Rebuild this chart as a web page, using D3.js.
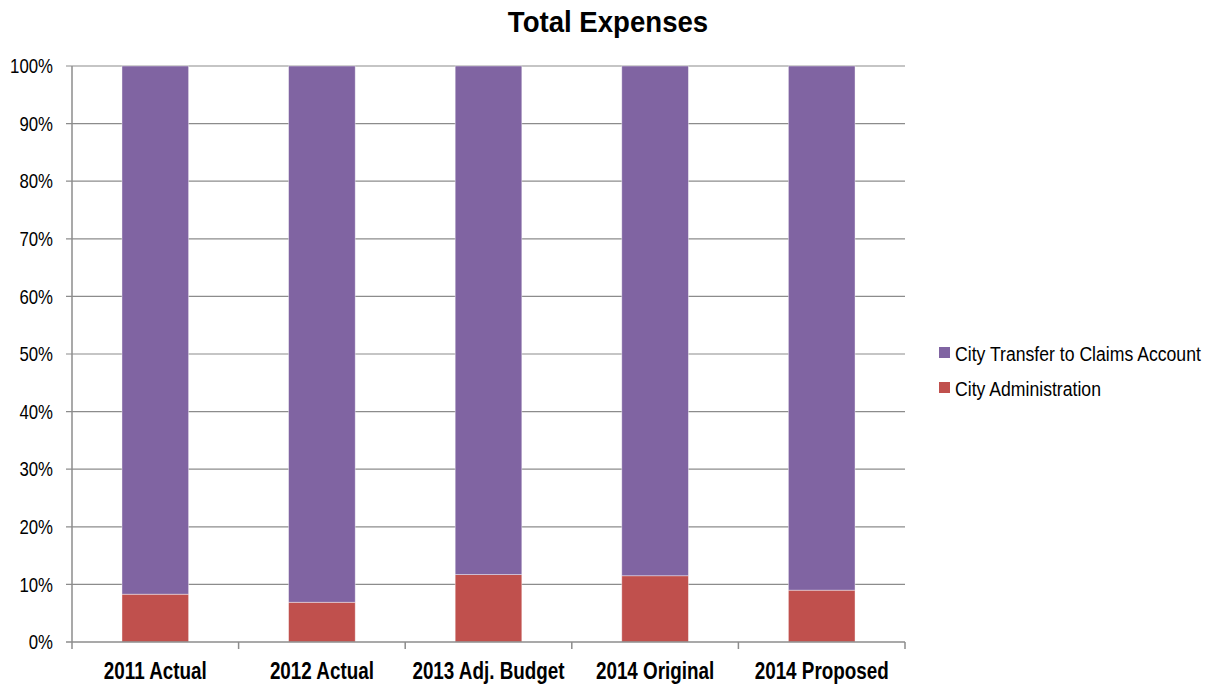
<!DOCTYPE html>
<html>
<head>
<meta charset="utf-8">
<script src="https://cdn.jsdelivr.net/npm/d3@7"></script>
<style>
  body { margin: 0; background: #fff; }
  text { font-family: "Liberation Sans", Arial, sans-serif; }
</style>
</head>
<body>
<div class="area"></div>
<script>
var years = ['2011 Actual', '2012 Actual', '2013 Adj. Budget', '2014 Original', '2014 Proposed'];
var admin = [8.3, 6.9, 11.7, 11.5, 9.0];
var transfer = [91.7, 93.1, 88.3, 88.5, 91.0];
var seriesNames = ['City Administration', 'City Transfer to Claims Account'];
var yTicks = [0, 10, 20, 30, 40, 50, 60, 70, 80, 90, 100];

var colors = { 'City Administration': '#C0504D', 'City Transfer to Claims Account': '#8064A2' };

var plotL = 72, plotR = 905, plotT = 66, plotB = 642;
var narrow = 0.82; // no Arial Narrow here, squeeze text sideways instead

function squeeze(px, py, k) {
    return 'translate(' + px + ',' + py + ') scale(' + (k || narrow) + ',1)';
}

var svg = d3.select('.area')
    .append('svg')
    .attr('width', 1212)
    .attr('height', 685);

var x = d3.scaleBand()
    .domain(years)
    .range([plotL, plotR])
    .paddingInner(0.6)
    .paddingOuter(0.3);

var y = d3.scaleLinear()
    .domain([0, 100])
    .range([plotB, plotT]);

// gridlines + y labels
svg.selectAll('.grid')
    .data(yTicks.filter(function(d) { return d > 0; }))
    .enter().append('line')
    .attr('x1', plotL - 6)
    .attr('x2', plotR)
    .attr('y1', function(d) { return y(d); })
    .attr('y2', function(d) { return y(d); })
    .style('stroke', '#8c8c8c')
    .style('stroke-width', 1.2);

svg.selectAll('.ylab')
    .data(yTicks)
    .enter().append('text')
    .attr('transform', function(d) { return squeeze(53, y(d), 0.84); })
    .attr('dy', '0.36em')
    .attr('text-anchor', 'end')
    .style('font-size', '20px')
    .attr('fill', '#000')
    .text(function(d) { return d + '%'; });

// stacked bars
var rows = years.map(function(yr, i) {
    return { year: yr, 'City Administration': admin[i], 'City Transfer to Claims Account': transfer[i] };
});
var stack = d3.stack().keys(seriesNames)(rows);

svg.selectAll('.series')
    .data(stack)
    .enter().append('g')
    .attr('fill', function(d) { return colors[d.key]; })
    .selectAll('rect')
    .data(function(d) { return d; })
    .enter().append('rect')
    .attr('x', function(d) { return x(d.data.year); })
    .attr('y', function(d) { return y(d[1]); })
    .attr('width', x.bandwidth())
    .attr('height', function(d) { return y(d[0]) - y(d[1]); })
    .style('stroke', '#ffffff')
    .style('stroke-opacity', 0.5)
    .style('stroke-width', 0.8);

// axes lines
svg.append('line')
    .attr('x1', plotL).attr('x2', plotL)
    .attr('y1', plotT).attr('y2', plotB)
    .style('stroke', '#8c8c8c')
    .style('stroke-width', 1.5);

svg.append('line')
    .attr('x1', plotL - 6).attr('x2', plotR)
    .attr('y1', plotB).attr('y2', plotB)
    .style('stroke', '#8c8c8c')
    .style('stroke-width', 1.5);

var bounds = years.map(function(d) { return x(d) - x.step() * x.paddingInner() / 2; });
bounds.push(plotR);
bounds[0] = plotL;
svg.selectAll('.xtick')
    .data(bounds)
    .enter().append('line')
    .attr('x1', function(d) { return d; })
    .attr('x2', function(d) { return d; })
    .attr('y1', plotB)
    .attr('y2', plotB + 7)
    .style('stroke', '#8c8c8c')
    .style('stroke-width', 1.5);

svg.selectAll('.xlab')
    .data(years)
    .enter().append('text')
    .attr('transform', function(d) { return squeeze(x(d) + x.bandwidth() / 2, 679); })
    .attr('text-anchor', 'middle')
    .style('font-size', '23px')
    .style('font-weight', 'bold')
    .attr('fill', '#000')
    .text(function(d) { return d; });

// title
svg.append('text')
    .attr('transform', squeeze(608, 32, 0.92))
    .attr('text-anchor', 'middle')
    .style('font-size', '30px')
    .style('font-weight', 'bold')
    .attr('fill', '#000')
    .text('Total Expenses');

// legend
var legendItems = seriesNames.slice().reverse();
var legend = svg.selectAll('.legend')
    .data(legendItems)
    .enter().append('g')
    .attr('transform', function(d, i) { return 'translate(939,' + (353 + i * 35) + ')'; });

legend.append('rect')
    .attr('x', 0)
    .attr('y', -6)
    .attr('width', 11)
    .attr('height', 11)
    .attr('fill', function(d) { return colors[d]; });

legend.append('text')
    .attr('transform', squeeze(16, 0, 0.84))
    .attr('dy', '0.36em')
    .style('font-size', '21px')
    .attr('fill', '#000')
    .text(function(d) { return d; });
</script>
</body>
</html>
